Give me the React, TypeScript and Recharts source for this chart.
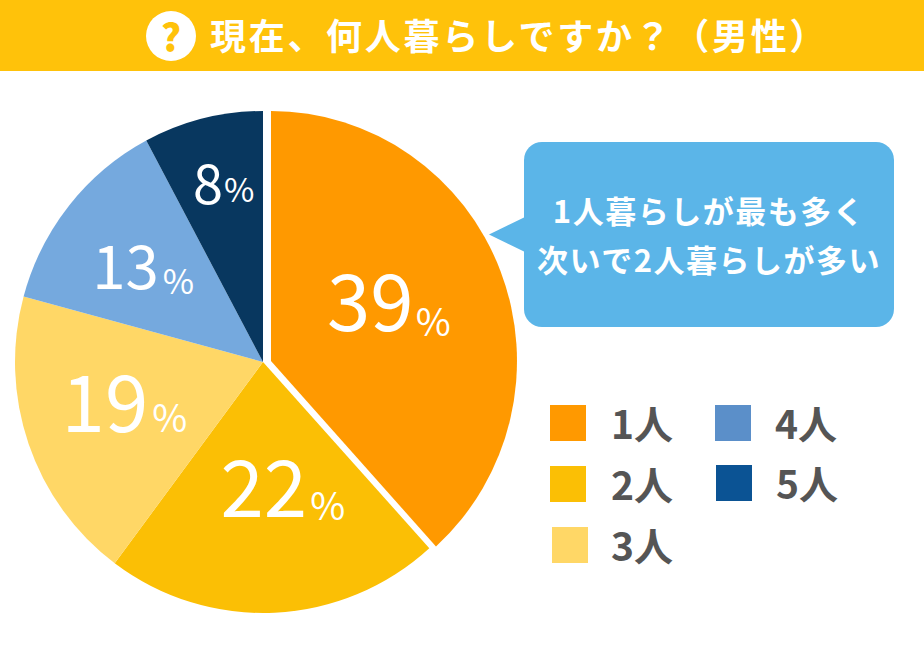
import { PieChart, Pie, Cell, Sector, Legend } from "recharts";

const categories = ["1人", "2人", "3人", "4人", "5人"];
const shareLabels = [39, 22, 19, 13, 8];
const sliceShares = [38.3, 21.9, 19, 13, 7.8];
const sliceColors = ["#FF9900", "#FBBF05", "#FFD766", "#75A9DE", "#08375F"];
const legendColors = ["#FF9900", "#FBBF05", "#FFD766", "#5B8FC9", "#0B5394"];
const calloutLines = ["1人暮らしが最も多く", "次いで2人暮らしが多い"];
const title = "現在、何人暮らしですか？（男性）";

const data = categories.map((name, i) => ({ name, value: sliceShares[i] }));

const FONT = '"Noto Sans CJK JP", "Noto Sans", sans-serif';
const WIDTH = 924;
const HEIGHT = 668;

// size of the number and of the % sign, then nudges from the slice's mid radius
const labelSizes = [78, 78, 78, 60, 54];
const percentSizes = [38, 38, 38, 34, 33];
const percentGaps = [2, 3, 4, 4, 1];
const percentDrops = [5, 3, 0, 5, -2];
const labelNudges = [
  [-10, 21],
  [13, 10],
  [-1, 22],
  [-6, 18],
  [-4, -17],
];
const legendSpots = [
  [550, 405],
  [550, 466],
  [552, 527],
  [715, 405],
  [716, 465],
];
const legendTextLefts = [61, 61, 59, 60, 60];

function renderSlice(props: any) {
  const { cx, cy, index } = props;
  const stretch = (sx: number, sy: number) =>
    `translate(${cx} ${cy}) scale(${sx} ${sy}) translate(${-cx} ${-cy})`;
  if (index !== 0) {
    // the source pie is a touch narrower than it is tall
    return (
      <g transform={stretch(0.988, 1)}>
        <Sector {...props} />
      </g>
    );
  }
  // the first slice is pulled out of the pie
  return (
    <g transform={`translate(8 -1) ${stretch(0.98, 0.996)}`}>
      <Sector {...props} />
    </g>
  );
}

function renderLabel(props: any) {
  const { cx, cy, midAngle, outerRadius, index } = props;
  const rad = (midAngle * Math.PI) / 180;
  const x = cx + outerRadius * 0.58 * Math.cos(rad) + labelNudges[index][0];
  const y = cy - outerRadius * 0.58 * Math.sin(rad) + labelNudges[index][1];
  return (
    <text x={x} y={y} textAnchor="middle" fill="#fff" fontFamily={FONT}>
      <tspan fontSize={labelSizes[index]}>{shareLabels[index]}</tspan>
      <tspan fontSize={percentSizes[index]} dx={percentGaps[index]} dy={percentDrops[index]}>
        %
      </tspan>
    </text>
  );
}

function LegendBlock() {
  return (
    <div>
      {categories.map((name, i) => (
        <div key={name} style={{ position: "absolute", left: legendSpots[i][0], top: legendSpots[i][1] }}>
          <div style={{ width: 36, height: 36, background: legendColors[i] }} />
          <div
            style={{
              position: "absolute",
              left: legendTextLefts[i],
              top: -9,
              fontFamily: FONT,
              fontSize: 39,
              fontWeight: 700,
              lineHeight: "52px",
              color: "#555",
              whiteSpace: "nowrap",
            }}
          >
            {name}
          </div>
        </div>
      ))}
    </div>
  );
}

export default function App() {
  return (
    <div style={{ position: "absolute", left: 0, top: 0, width: WIDTH, height: HEIGHT, background: "#fff", overflow: "hidden" }}>
      <div style={{ position: "absolute", left: 0, top: 0, width: WIDTH, height: 71, background: "#FFC20A" }} />
      <div
        style={{
          position: "absolute",
          left: 146,
          top: 11,
          width: 50,
          height: 50,
          borderRadius: 25,
          background: "#fff",
          color: "#FFC20A",
          fontFamily: FONT,
          fontWeight: 900,
          fontSize: 38,
          lineHeight: "50px",
          textAlign: "center",
        }}
      >
        ?
      </div>
      <div
        style={{
          position: "absolute",
          left: 210,
          top: 8,
          fontFamily: FONT,
          fontWeight: 700,
          fontSize: 36,
          letterSpacing: 2.7,
          lineHeight: "52px",
          color: "#fff",
          whiteSpace: "nowrap",
        }}
      >
        {title}
      </div>

      <PieChart
        width={WIDTH}
        height={HEIGHT}
        margin={{ top: 0, right: 0, bottom: 0, left: 0 }}
        style={{ position: "absolute", left: 0, top: 0 }}
      >
        <Pie
          data={data}
          dataKey="value"
          nameKey="name"
          cx={263}
          cy={362}
          outerRadius={251}
          startAngle={90}
          endAngle={-270}
          stroke="none"
          shape={renderSlice}
          label={renderLabel}
          labelLine={false}
          isAnimationActive={false}
        >
          {data.map((d, i) => (
            <Cell key={d.name} fill={sliceColors[i]} />
          ))}
        </Pie>
        <Legend content={() => <LegendBlock />} wrapperStyle={{ left: 0, top: 0, width: 0, height: 0 }} />
      </PieChart>

      <div
        style={{
          position: "absolute",
          left: 524,
          top: 142,
          width: 370,
          height: 185,
          borderRadius: 18,
          background: "#5BB5E8",
        }}
      />
      <div
        style={{
          position: "absolute",
          left: 489,
          top: 217,
          width: 36,
          height: 35,
          background: "#5BB5E8",
          clipPath: "polygon(0 50%, 100% 0, 100% 100%)",
        }}
      />
      <div
        style={{
          position: "absolute",
          left: 524,
          top: 185,
          width: 370,
          textAlign: "center",
          fontFamily: FONT,
          fontWeight: 700,
          fontSize: 31,
          letterSpacing: 1.5,
          lineHeight: "49px",
          color: "#fff",
        }}
      >
        {calloutLines.map((line) => (
          <div key={line}>{line}</div>
        ))}
      </div>
    </div>
  );
}
